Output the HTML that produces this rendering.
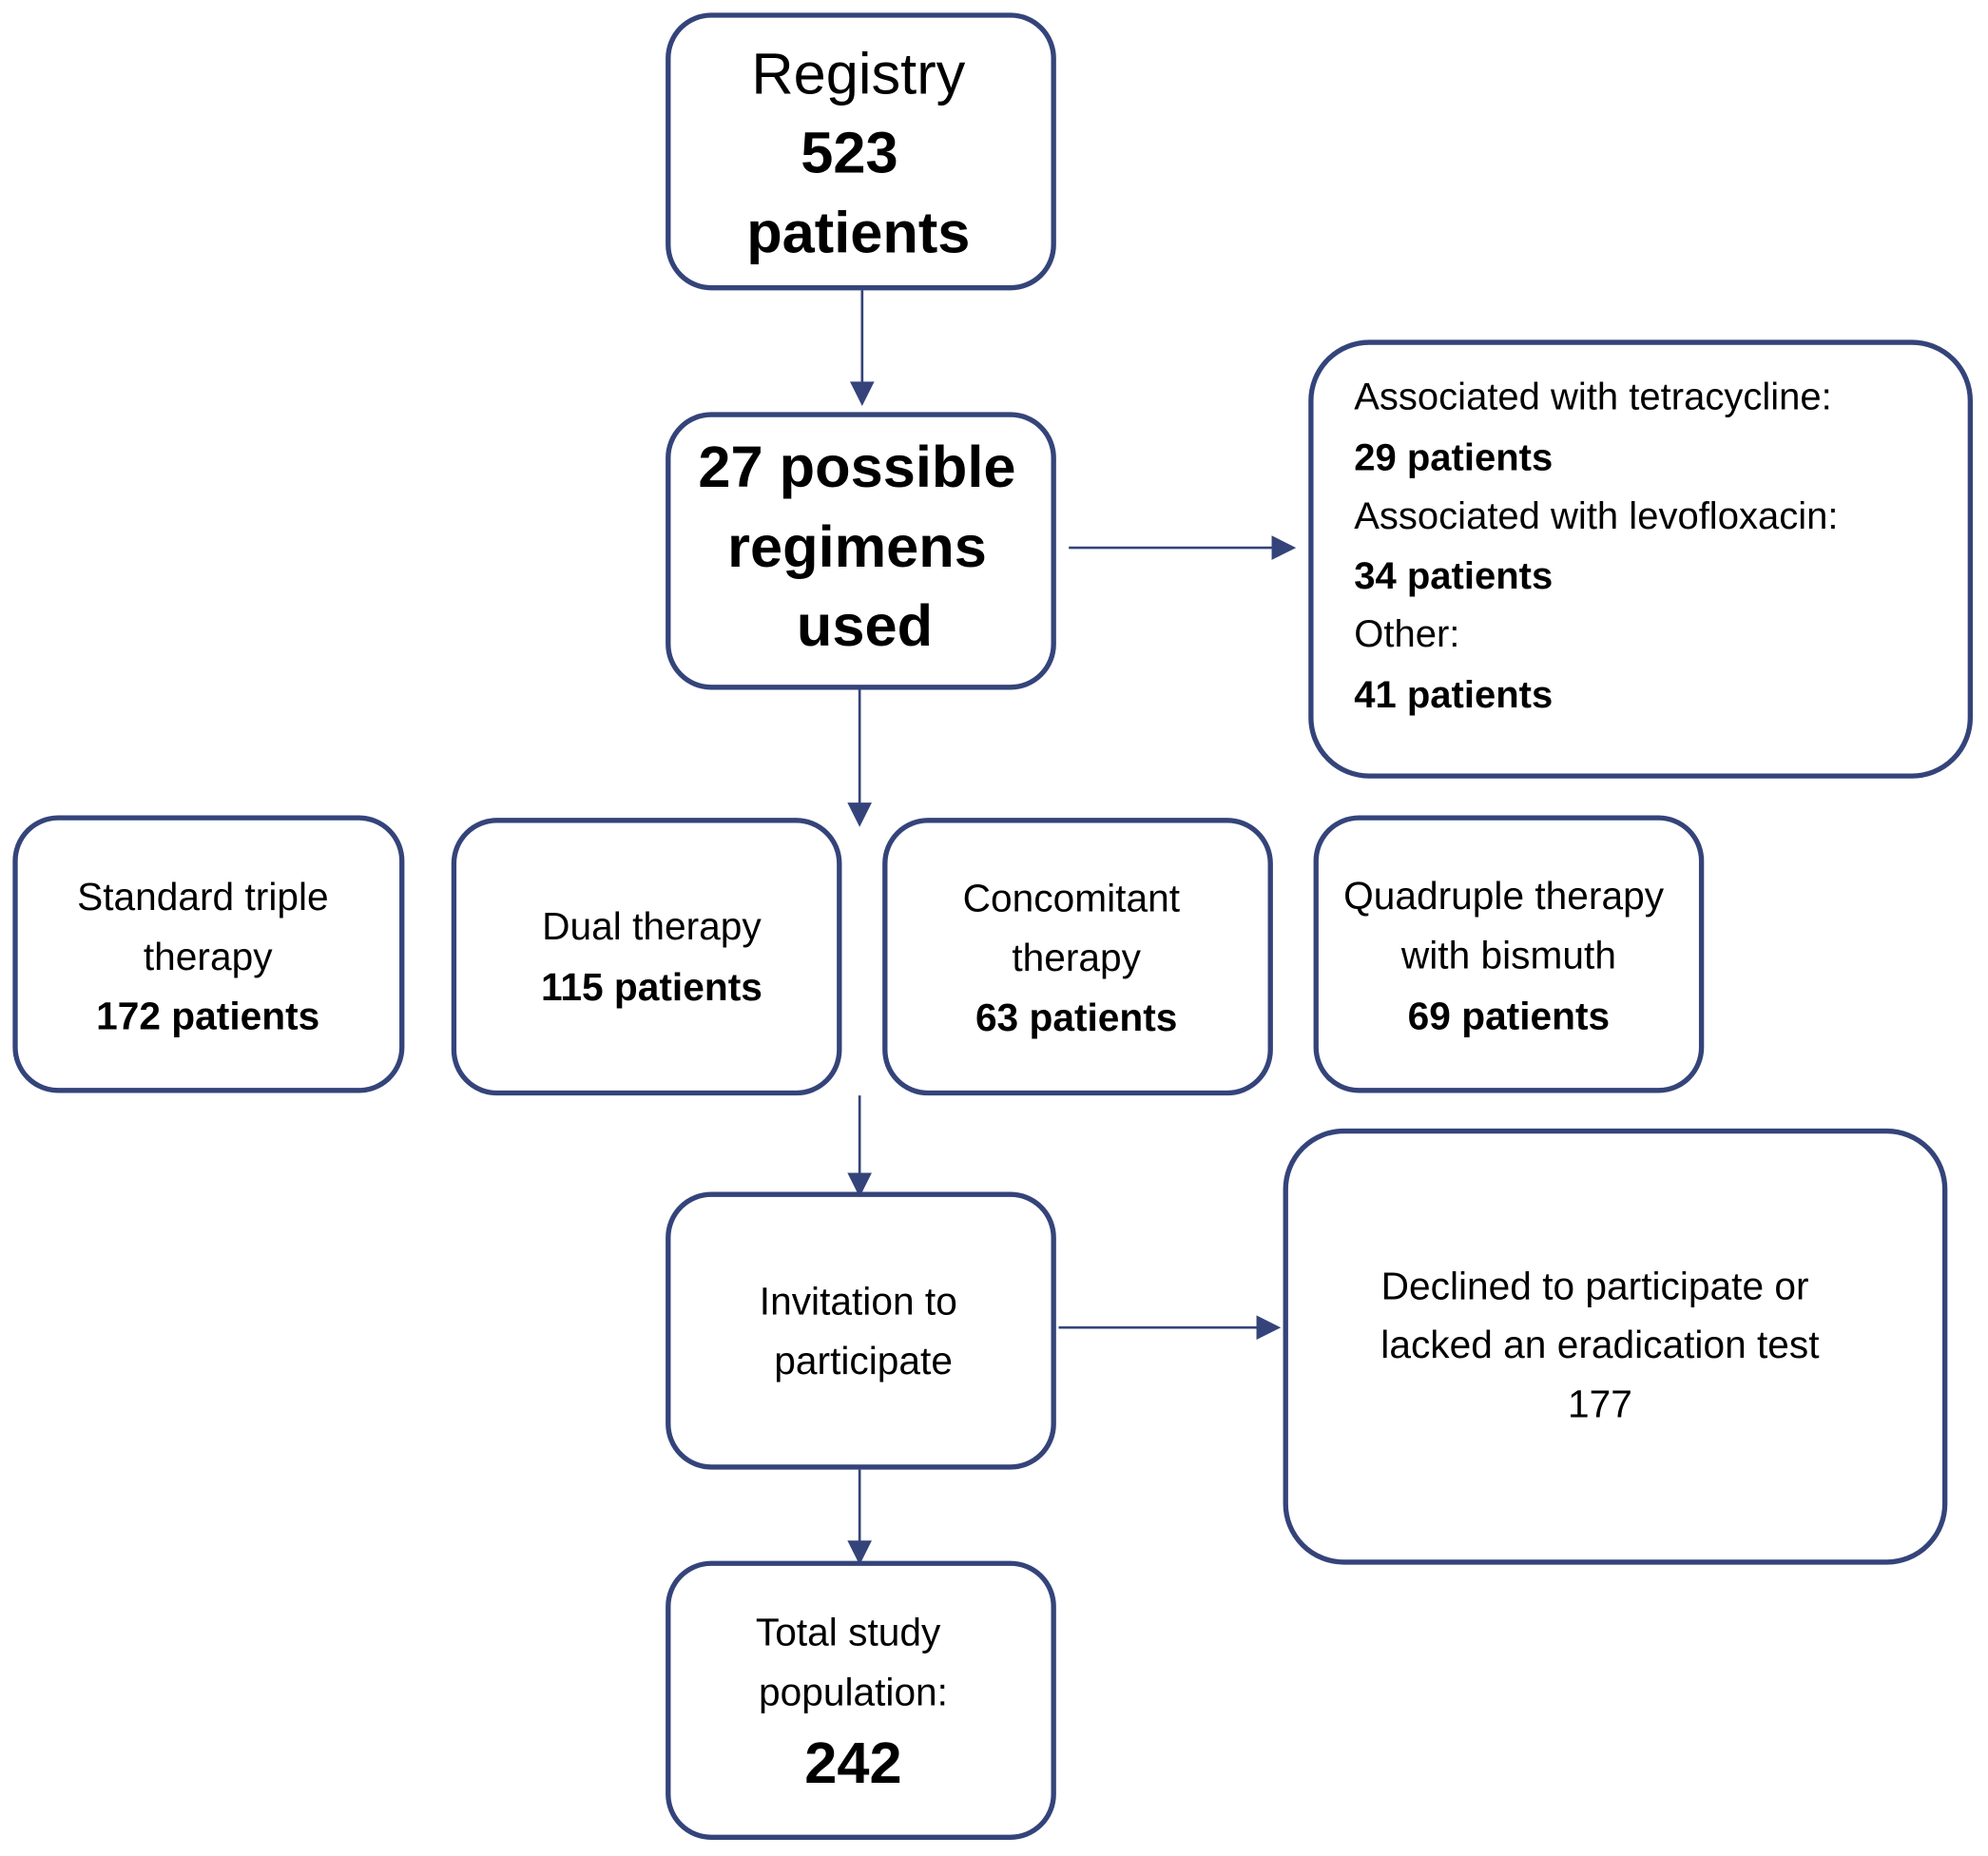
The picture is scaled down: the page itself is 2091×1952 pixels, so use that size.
<!DOCTYPE html>
<html><head><style>
html,body{margin:0;padding:0;background:#fff;width:2091px;height:1952px;overflow:hidden}
#w{position:absolute;left:0;top:0;width:1568px;height:1464px;transform:scale(1.33355);transform-origin:0 0;font-family:"Liberation Sans",Arial,sans-serif;color:#000}
.b{position:absolute;box-sizing:border-box;border:4.5px solid #34447a;border-radius:36px;background:#fff}
.t{position:absolute;white-space:nowrap;transform:translate(-50%,-50%);line-height:1}
.l{position:absolute;white-space:nowrap;transform:translateY(-50%);line-height:1;font-size:30px}
.big{font-size:46px}
.m{font-size:30.5px}
b{font-weight:bold}
svg{position:absolute;left:0;top:0}
</style></head><body><div id="w">
<div class="b" style="left:525px;top:10px;width:308px;height:219px"></div>
<div class="b" style="left:525px;top:325px;width:308px;height:219px"></div>
<div class="b" style="left:1032px;top:268px;width:524px;height:346px;border-radius:48px"></div>
<div class="b" style="left:10px;top:643px;width:309px;height:219px"></div>
<div class="b" style="left:356px;top:645px;width:308px;height:219px"></div>
<div class="b" style="left:696px;top:645px;width:308px;height:219px"></div>
<div class="b" style="left:1036px;top:643px;width:308px;height:219px"></div>
<div class="b" style="left:525px;top:940px;width:308px;height:219px"></div>
<div class="b" style="left:1012px;top:890px;width:524px;height:344px;border-radius:48px"></div>
<div class="b" style="left:525px;top:1231px;width:308px;height:220px"></div>

<svg width="1568" height="1464">
<g stroke="#34447a" stroke-width="2" fill="#34447a">
<line x1="680" y1="229" x2="680" y2="304"/><polygon points="672,302 688,302 680,318"/>
<line x1="678" y1="544" x2="678" y2="636"/><polygon points="670,634 686,634 678,650" />
<line x1="678" y1="864" x2="678" y2="928"/><polygon points="670,926 686,926 678,942"/>
<line x1="678" y1="1159" x2="678" y2="1218"/><polygon points="670,1216 686,1216 678,1232"/>
<line x1="843" y1="432" x2="1006" y2="432"/><polygon points="1004,424 1004,440 1020,432"/>
<line x1="835" y1="1047" x2="994" y2="1047"/><polygon points="992,1039 992,1055 1008,1047"/>
</g></svg>

<div class="t big" style="left:677px;top:58px">Registry</div>
<div class="t big" style="left:670px;top:120px"><b>523</b></div>
<div class="t big" style="left:677px;top:183px"><b>patients</b></div>

<div class="t big" style="left:676px;top:368px"><b>27 possible</b></div>
<div class="t big" style="left:676px;top:431px"><b>regimens</b></div>
<div class="t big" style="left:682px;top:493px"><b>used</b></div>

<div class="l" style="left:1068px;top:314px">Associated with tetracycline:</div>
<div class="l" style="left:1068px;top:362px"><b>29 patients</b></div>
<div class="l" style="left:1068px;top:408px">Associated with levofloxacin:</div>
<div class="l" style="left:1068px;top:455px"><b>34 patients</b></div>
<div class="l" style="left:1068px;top:501px">Other:</div>
<div class="l" style="left:1068px;top:549px"><b>41 patients</b></div>

<div class="t m" style="left:160px;top:708px">Standard triple</div>
<div class="t m" style="left:164px;top:755px">therapy</div>
<div class="t m" style="left:164px;top:802px"><b>172 patients</b></div>

<div class="t m" style="left:514px;top:731px">Dual therapy</div>
<div class="t m" style="left:514px;top:779px"><b>115 patients</b></div>

<div class="t m" style="left:845px;top:709px">Concomitant</div>
<div class="t m" style="left:849px;top:756px">therapy</div>
<div class="t m" style="left:849px;top:803px"><b>63 patients</b></div>

<div class="t m" style="left:1186px;top:707px">Quadruple therapy</div>
<div class="t m" style="left:1190px;top:754px">with bismuth</div>
<div class="t m" style="left:1190px;top:802px"><b>69 patients</b></div>

<div class="t m" style="left:677px;top:1027px">Invitation to</div>
<div class="t m" style="left:681px;top:1074px">participate</div>

<div class="t m" style="left:1258px;top:1015px">Declined to participate or</div>
<div class="t m" style="left:1262px;top:1061px">lacked an eradication test</div>
<div class="t m" style="left:1262px;top:1108px">177</div>

<div class="t m" style="left:669px;top:1288px">Total study</div>
<div class="t m" style="left:673px;top:1335px">population:</div>
<div class="t big" style="left:673px;top:1390px"><b>242</b></div>
</div></body></html>
